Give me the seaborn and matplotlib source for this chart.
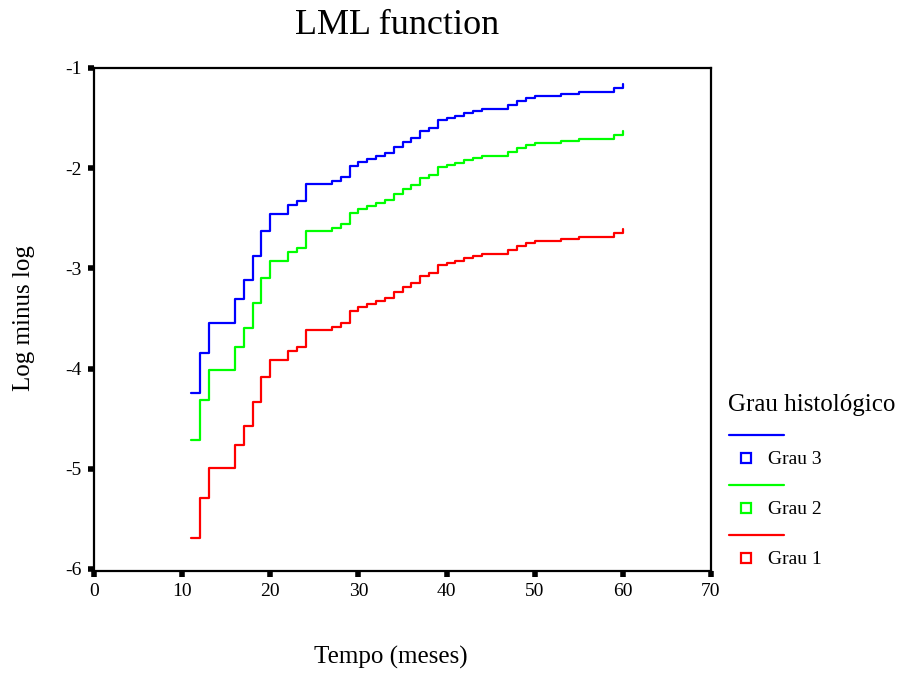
import matplotlib
matplotlib.use("Agg")
import matplotlib.pyplot as plt
from matplotlib.lines import Line2D
import seaborn as sns
import pandas as pd

# ---- data ----
times = [11, 12, 13, 16, 17, 18, 19, 20, 22, 23, 24, 27, 28, 29, 30, 31, 32, 33,
         34, 35, 36, 37, 38, 39, 40, 41, 42, 43, 44, 47, 48, 49, 50, 53, 55, 59, 60]
grau1 = [-5.69, -5.29, -4.99, -4.76, -4.57, -4.33, -4.08, -3.91, -3.82, -3.78, -3.61,
         -3.58, -3.54, -3.43, -3.39, -3.36, -3.33, -3.30, -3.24, -3.19, -3.15, -3.08,
         -3.05, -2.97, -2.95, -2.93, -2.90, -2.88, -2.86, -2.82, -2.78, -2.75, -2.73,
         -2.71, -2.69, -2.65, -2.61]
grau2 = [-4.71, -4.31, -4.01, -3.78, -3.59, -3.35, -3.10, -2.93, -2.84, -2.80, -2.63,
         -2.60, -2.56, -2.45, -2.41, -2.38, -2.35, -2.32, -2.26, -2.21, -2.17, -2.10,
         -2.07, -1.99, -1.97, -1.95, -1.92, -1.90, -1.88, -1.84, -1.80, -1.77, -1.75,
         -1.73, -1.71, -1.67, -1.63]
grau3 = [-4.24, -3.84, -3.54, -3.31, -3.12, -2.88, -2.63, -2.46, -2.37, -2.33, -2.16,
         -2.13, -2.09, -1.98, -1.94, -1.91, -1.88, -1.85, -1.79, -1.74, -1.70, -1.63,
         -1.60, -1.52, -1.50, -1.48, -1.45, -1.43, -1.41, -1.37, -1.33, -1.30, -1.28,
         -1.26, -1.24, -1.20, -1.16]
groups = ["Grau 3", "Grau 2", "Grau 1"]
colors = {"Grau 3": "#0000ff", "Grau 2": "#00ff00", "Grau 1": "#ff0000"}
xticks = [0, 10, 20, 30, 40, 50, 60, 70]
yticks = [-6, -5, -4, -3, -2, -1]

df = pd.concat([
    pd.DataFrame({"t": times, "v": grau3, "g": "Grau 3"}),
    pd.DataFrame({"t": times, "v": grau2, "g": "Grau 2"}),
    pd.DataFrame({"t": times, "v": grau1, "g": "Grau 1"}),
], ignore_index=True)

sns.set_style("white")
plt.rcParams["font.family"] = ["Liberation Serif", "DejaVu Serif"]
plt.rcParams["axes.unicode_minus"] = False
plt.rcParams["text.color"] = "black"
plt.rcParams["xtick.color"] = "black"
plt.rcParams["ytick.color"] = "black"

W, H = 905, 673
fig = plt.figure(figsize=(W / 100, H / 100), dpi=100)
ax = fig.add_axes([94 / W, 1 - 571 / H, (711 - 94) / W, (571 - 68) / H])

sns.lineplot(data=df, x="t", y="v", hue="g", hue_order=groups, palette=colors,
             drawstyle="steps-post", linewidth=1.6, legend=False, ax=ax,
             estimator=None, sort=True)

ax.set_xlim(0, 70)
ax.set_ylim(-6.02, -1.0)
ax.set_xticks(xticks)
ax.set_yticks(yticks)
ax.set_xticklabels([str(v) for v in xticks], fontsize=14, color="black")
ax.set_yticklabels([str(v) for v in yticks], fontsize=14, color="black")
ax.tick_params(axis="both", which="major", bottom=True, left=True, top=False,
               right=False, direction="out", length=4, width=4, color="black", pad=5)
ax.set_xlabel("")
ax.set_ylabel("")
for s in ax.spines.values():
    s.set_visible(True)
    s.set_color("black")
    s.set_linewidth(1.6)

def fx(x):
    return x / W

def fy(y):
    return 1 - y / H

fig.text(fx(397), fy(25), "LML function", fontsize=26, ha="center", va="center",
         color="black")
fig.text(fx(391), fy(657), "Tempo (meses)", fontsize=18, ha="center", va="center",
         color="black")
fig.text(fx(24), fy(318), "Log minus log", fontsize=18, ha="center", va="center",
         rotation=90, color="black")

# legend
fig.text(fx(728), fy(405), "Grau histológico", fontsize=18, ha="left", va="center",
         color="black")
rows = [("Grau 3", 435), ("Grau 2", 485), ("Grau 1", 535)]
for name, yl in rows:
    c = colors[name]
    fig.add_artist(Line2D([fx(729), fx(784)], [fy(yl), fy(yl)], color=c, linewidth=1.6,
                          transform=fig.transFigure))
    fig.add_artist(Line2D([fx(746)], [fy(yl + 23)], marker="s", markersize=6.5,
                          markerfacecolor="white", markeredgecolor=c, markeredgewidth=1.6,
                          linestyle="none", transform=fig.transFigure))
    fig.text(fx(768), fy(yl + 24), name, fontsize=14, ha="left", va="center",
             color="black")

fig.savefig("out.png", dpi=100)
